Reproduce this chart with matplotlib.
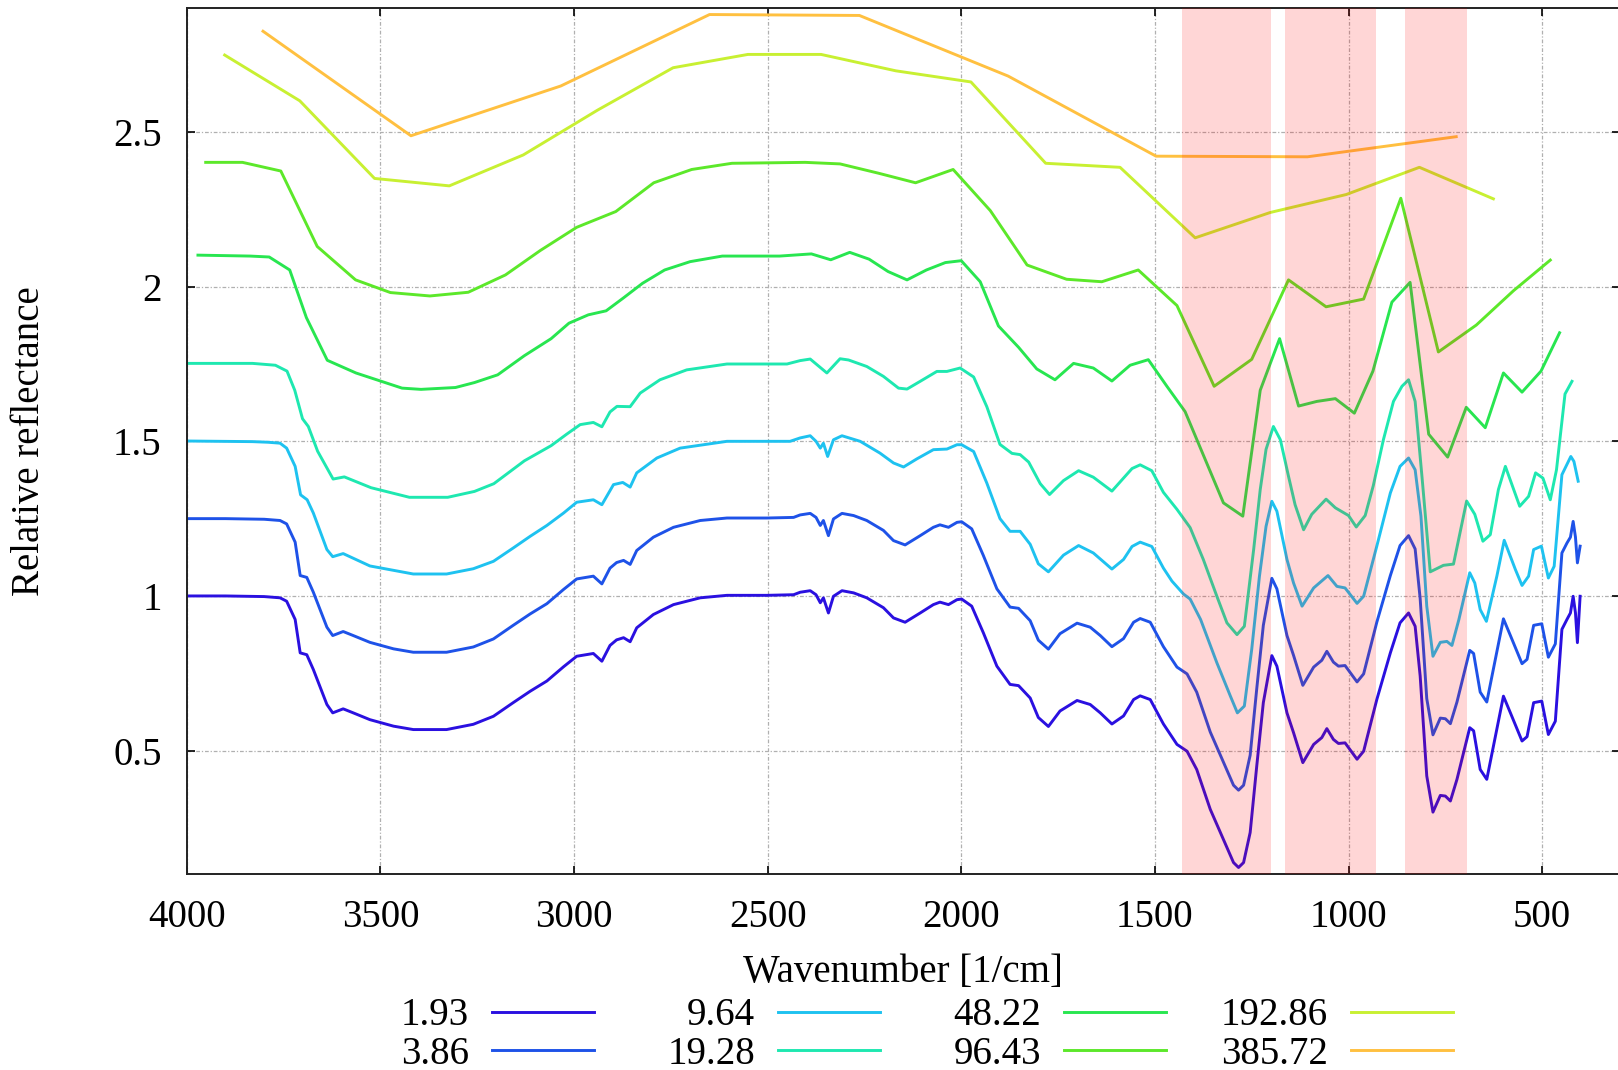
import numpy as np
import matplotlib
matplotlib.use('Agg')
import matplotlib.pyplot as plt

plt.rcParams['font.family'] = ['Liberation Serif', 'DejaVu Serif']
plt.rcParams['font.size'] = 28

# Spectra (wavenumber [1/cm], relative reflectance)
labels = ['1.93', '3.86', '9.64', '19.28', '48.22', '96.43', '192.86', '385.72']
colors = ['#2a10e0', '#1e52e8', '#1ec2f0', '#1ee8b0', '#28e650', '#5ce82a', '#c8f032', '#ffc040']

wn_fine = [4000, 3900, 3800, 3759, 3742, 3720, 3707, 3690, 3673, 3638, 3623, 3596, 3570, 3527,
           3466, 3415, 3329, 3260, 3208, 3157, 3113, 3070, 3027, 2993, 2950, 2928, 2907, 2890,
           2872, 2855, 2838, 2795, 2743, 2674, 2605, 2502, 2433, 2416, 2390, 2375, 2364, 2356,
           2343, 2330, 2308, 2278, 2244, 2201, 2175, 2145, 2106, 2072, 2055, 2033, 2011, 1999,
           1973, 1943, 1908, 1874, 1852, 1822, 1801, 1775, 1745, 1701, 1667, 1641, 1611, 1581,
           1555, 1538, 1512, 1478, 1443, 1417, 1392, 1357, 1323, 1297, 1284, 1271, 1254, 1237,
           1220, 1198, 1185, 1159, 1142, 1118, 1090, 1069, 1056, 1039, 1026, 1009, 978, 961,
           927, 892, 867, 845, 828, 815, 798, 782, 763, 750, 737, 720, 687, 677, 660, 643,
           600, 582, 552, 539, 522, 501, 484, 466, 449, 436, 427, 420, 414, 409, 402]

r_193 = [1.000, 1.000, 0.998, 0.994, 0.983, 0.924, 0.816, 0.810, 0.762, 0.649, 0.622, 0.635, 0.622, 0.600,
         0.579, 0.568, 0.568, 0.585, 0.611, 0.655, 0.692, 0.725, 0.771, 0.805, 0.814, 0.789, 0.840, 0.858,
         0.865, 0.852, 0.897, 0.940, 0.972, 0.994, 1.002, 1.002, 1.004, 1.012, 1.017, 1.004, 0.978, 0.994,
         0.945, 0.999, 1.017, 1.010, 0.994, 0.962, 0.929, 0.915, 0.945, 0.972, 0.980, 0.972, 0.988, 0.990,
         0.967, 0.881, 0.773, 0.714, 0.710, 0.670, 0.607, 0.578, 0.628, 0.662, 0.649, 0.622, 0.586, 0.612,
         0.665, 0.677, 0.665, 0.586, 0.520, 0.498, 0.439, 0.310, 0.213, 0.138, 0.122, 0.138, 0.235, 0.450,
         0.655, 0.807, 0.773, 0.622, 0.558, 0.461, 0.520, 0.542, 0.571, 0.536, 0.523, 0.525, 0.472, 0.498,
         0.665, 0.816, 0.913, 0.945, 0.902, 0.741, 0.418, 0.301, 0.355, 0.353, 0.337, 0.407, 0.574, 0.564, 0.439, 0.407,
         0.676, 0.622, 0.531, 0.545, 0.655, 0.660, 0.552, 0.595, 0.892, 0.924, 0.945, 0.999, 0.945, 0.849, 0.999]

r_386 = [1.250, 1.250, 1.248, 1.244, 1.233, 1.174, 1.066, 1.060, 1.012, 0.899, 0.872, 0.885, 0.872, 0.850,
         0.829, 0.818, 0.818, 0.835, 0.861, 0.905, 0.942, 0.975, 1.021, 1.055, 1.064, 1.039, 1.090, 1.108,
         1.115, 1.102, 1.147, 1.190, 1.222, 1.244, 1.252, 1.252, 1.254, 1.262, 1.267, 1.254, 1.228, 1.244,
         1.195, 1.249, 1.267, 1.260, 1.244, 1.212, 1.179, 1.165, 1.195, 1.222, 1.230, 1.222, 1.238, 1.240,
         1.217, 1.131, 1.023, 0.964, 0.960, 0.920, 0.857, 0.828, 0.878, 0.912, 0.899, 0.872, 0.836, 0.862,
         0.915, 0.927, 0.915, 0.836, 0.770, 0.748, 0.689, 0.560, 0.463, 0.388, 0.372, 0.388, 0.485, 0.700,
         0.905, 1.057, 1.023, 0.872, 0.808, 0.711, 0.770, 0.792, 0.821, 0.786, 0.773, 0.775, 0.722, 0.748,
         0.915, 1.066, 1.163, 1.195, 1.152, 0.991, 0.668, 0.551, 0.605, 0.603, 0.587, 0.657, 0.824, 0.814, 0.689, 0.657,
         0.926, 0.872, 0.781, 0.795, 0.905, 0.910, 0.802, 0.845, 1.139, 1.171, 1.190, 1.241, 1.190, 1.107, 1.161]

wn_964 = [4000, 3830, 3790, 3759, 3742, 3720, 3706, 3689, 3673, 3638, 3623, 3596, 3527, 3415, 3329,
          3260, 3208, 3157, 3113, 3070, 3027, 2993, 2950, 2928, 2898, 2874, 2855, 2838, 2786, 2726,
          2605, 2442, 2416, 2390, 2375, 2364, 2356, 2345, 2330, 2308, 2261, 2210, 2175, 2149, 2115,
          2072, 2037, 2011, 1999, 1968, 1934, 1900, 1874, 1848, 1822, 1801, 1775, 1736, 1697, 1659,
          1611, 1581, 1559, 1538, 1508, 1478, 1456, 1426, 1409, 1382, 1340, 1305, 1287, 1269, 1250,
          1230, 1213, 1198, 1185, 1159, 1142, 1120, 1090, 1053, 1030, 1009, 978, 961, 927, 892,
          867, 845, 828, 813, 798, 782, 763, 746, 733, 715, 687, 674, 660, 644, 617, 598, 569,
          552, 535, 522, 502, 484, 469, 449, 426, 418, 407]
r_964 = [1.501, 1.499, 1.497, 1.494, 1.478, 1.419, 1.327, 1.311, 1.268, 1.150, 1.127, 1.137, 1.097, 1.071, 1.071,
         1.088, 1.112, 1.155, 1.193, 1.228, 1.268, 1.303, 1.311, 1.295, 1.360, 1.367, 1.352, 1.398, 1.446, 1.478,
         1.500, 1.500, 1.511, 1.518, 1.500, 1.478, 1.494, 1.451, 1.505, 1.518, 1.500, 1.462, 1.430, 1.417, 1.443,
         1.473, 1.475, 1.489, 1.489, 1.467, 1.365, 1.250, 1.209, 1.209, 1.167, 1.104, 1.078, 1.132, 1.163, 1.139,
         1.087, 1.118, 1.160, 1.174, 1.160, 1.090, 1.048, 1.006, 0.990, 0.924, 0.784, 0.676, 0.622, 0.644, 0.827,
         1.064, 1.225, 1.306, 1.274, 1.118, 1.042, 0.967, 1.026, 1.066, 1.031, 1.026, 0.976, 0.999, 1.161, 1.333,
         1.419, 1.446, 1.408, 1.258, 0.967, 0.805, 0.850, 0.853, 0.840, 0.924, 1.075, 1.042, 0.956, 0.918, 1.064, 1.180, 1.085,
         1.034, 1.064, 1.150, 1.161, 1.058, 1.096, 1.392, 1.451, 1.435, 1.371]

wn_1928 = [4000, 3830, 3771, 3741, 3721, 3701, 3686, 3662, 3622, 3593, 3524, 3425, 3326, 3257, 3207,
           3128, 3059, 3019, 2984, 2950, 2928, 2907, 2889, 2855, 2829, 2778, 2709, 2605, 2450, 2416,
           2390, 2347, 2313, 2291, 2244, 2201, 2162, 2140, 2106, 2063, 2037, 2003, 1968, 1934, 1900,
           1869, 1848, 1826, 1796, 1772, 1736, 1697, 1659, 1611, 1559, 1538, 1508, 1478, 1443, 1409,
           1375, 1340, 1314, 1288, 1269, 1245, 1228, 1213, 1194, 1176, 1155, 1138, 1116, 1095, 1058,
           1034, 1000, 980, 957, 936, 910, 884, 862, 845, 828, 810, 789, 755, 729, 695, 674, 653,
           634, 613, 595, 558, 535, 517, 498, 479, 463, 441, 423]
r_1928 = [1.752, 1.752, 1.746, 1.727, 1.665, 1.573, 1.548, 1.468, 1.378, 1.385, 1.350, 1.319, 1.319, 1.338, 1.363,
          1.437, 1.486, 1.523, 1.554, 1.561, 1.547, 1.595, 1.613, 1.612, 1.656, 1.699, 1.731, 1.750, 1.750, 1.761,
          1.766, 1.721, 1.767, 1.763, 1.742, 1.710, 1.672, 1.669, 1.694, 1.726, 1.726, 1.737, 1.708, 1.612, 1.490,
          1.461, 1.457, 1.433, 1.363, 1.328, 1.373, 1.405, 1.384, 1.339, 1.412, 1.424, 1.405, 1.335, 1.280, 1.221,
          1.118, 0.999, 0.913, 0.875, 0.902, 1.150, 1.344, 1.474, 1.548, 1.505, 1.387, 1.295, 1.214, 1.264, 1.313,
          1.285, 1.260, 1.223, 1.260, 1.357, 1.505, 1.629, 1.678, 1.699, 1.629, 1.381, 1.078, 1.099, 1.103, 1.307, 1.264, 1.177,
          1.198, 1.344, 1.419, 1.290, 1.322, 1.398, 1.381, 1.311, 1.408, 1.653, 1.694]

wn_4822 = [3971, 3836, 3787, 3734, 3691, 3637, 3563, 3444, 3395, 3306, 3257, 3197, 3128, 3059, 3013,
           2963, 2917, 2873, 2823, 2766, 2700, 2617, 2469, 2387, 2337, 2288, 2238, 2189, 2140, 2090,
           2041, 2000, 1951, 1904, 1852, 1805, 1758, 1710, 1659, 1611, 1564, 1517, 1469, 1422, 1323,
           1273, 1228, 1178, 1129, 1082, 1034, 985, 937, 888, 841, 793, 744, 696, 647, 600, 552, 503, 455]
r_4822 = [2.102, 2.099, 2.096, 2.054, 1.900, 1.762, 1.721, 1.672, 1.668, 1.674, 1.690, 1.715, 1.777, 1.832, 1.882,
          1.909, 1.922, 1.963, 2.011, 2.054, 2.081, 2.099, 2.099, 2.106, 2.087, 2.111, 2.089, 2.049, 2.022, 2.054,
          2.078, 2.084, 2.016, 1.873, 1.804, 1.734, 1.699, 1.752, 1.737, 1.695, 1.746, 1.764, 1.678, 1.596, 1.301,
          1.258, 1.665, 1.832, 1.614, 1.629, 1.638, 1.591, 1.727, 1.950, 2.014, 1.523, 1.449, 1.610, 1.544, 1.721, 1.659, 1.727, 1.851]

wn_9643 = [3951, 3856, 3757, 3663, 3564, 3474, 3372, 3273, 3177, 3087, 2993, 2892, 2794, 2696, 2592,
           2403, 2313, 2214, 2118, 2021, 1925, 1830, 1728, 1637, 1543, 1443, 1347, 1250, 1155, 1058,
           961, 865, 768, 670, 574, 479]
r_9643 = [2.402, 2.402, 2.374, 2.130, 2.022, 1.981, 1.970, 1.982, 2.038, 2.117, 2.192, 2.243, 2.336, 2.379, 2.399,
          2.402, 2.397, 2.367, 2.336, 2.379, 2.246, 2.070, 2.024, 2.016, 2.054, 1.939, 1.678, 1.765, 2.022, 1.935,
          1.960, 2.286, 1.789, 1.876, 1.987, 2.086]

wn_19286 = [3902, 3708, 3515, 3322, 3131, 2939, 2744, 2551, 2362, 2169, 1975, 1782, 1590, 1396, 1202, 1006, 817, 626]
r_19286 = [2.749, 2.601, 2.350, 2.326, 2.426, 2.571, 2.708, 2.751, 2.751, 2.698, 2.662, 2.399, 2.386, 2.158,
           2.240, 2.298, 2.386, 2.284]

wn_38572 = [3803, 3421, 3034, 2650, 2263, 1879, 1497, 1106, 722]
r_38572 = [2.826, 2.488, 2.649, 2.880, 2.877, 2.681, 2.422, 2.420, 2.485]

# highlighted absorption bands
bands = [(1430, 1200), (1165, 930), (855, 695)]

series = [(wn_fine, r_193), (wn_fine, r_386), (wn_964, r_964), (wn_1928, r_1928),
          (wn_4822, r_4822), (wn_9643, r_9643), (wn_19286, r_19286), (wn_38572, r_38572)]

fig = plt.figure(figsize=(16.18, 10.70), dpi=100)
ax = fig.add_axes([0.1154, 0.1829, 0.8856, 0.8093])

lines = []
for (x, y), lab, c in zip(series, labels, colors):
    ln, = ax.plot(x, y, color=c, lw=2.1, label=lab, zorder=2, solid_joinstyle='round')
    lines.append(ln)

for lo, hi in bands:
    ax.axvspan(lo, hi, color='red', alpha=0.16, lw=0, zorder=3)

ax.set_xlim(4000, 300)
ax.set_ylim(0.1, 2.9)
ax.set_xticks([4000, 3500, 3000, 2500, 2000, 1500, 1000, 500])
ax.set_yticks([0.5, 1, 1.5, 2, 2.5])
ax.set_yticklabels(['0.5', '1', '1.5', '2', '2.5'])
ax.tick_params(direction='in', length=6, width=1.2, top=True, right=True, pad=18)

ax.grid(True, color='#b0b0b0', lw=0.9, linestyle=(0, (3, 1.5, 1, 1.5)))
for s in ax.spines.values():
    s.set_linewidth(1.4)
    s.set_color('#222222')

ax.set_xlabel('Wavenumber [1/cm]')
ax.set_ylabel('Relative reflectance')
ax.xaxis.set_label_coords(0.5, -0.113)
ax.xaxis.label.set_va('center')
ax.yaxis.set_label_coords(-0.110, 0.5)
ax.yaxis.label.set_va('center')

# gnuplot-style key: one fixed-width column per pair, text to the left of the sample
col_right = [0.3671, 0.5439, 0.7206, 0.8980]
for k, xr in enumerate(col_right):
    fig.legend(handles=lines[2 * k:2 * k + 2], loc='center right', bbox_to_anchor=(xr, 0.0327),
               ncol=1, markerfirst=False, frameon=False, handlelength=2.62, handletextpad=0.59,
               labelspacing=0.03, borderpad=0, borderaxespad=0)

fig.savefig('out.png', dpi=100)
